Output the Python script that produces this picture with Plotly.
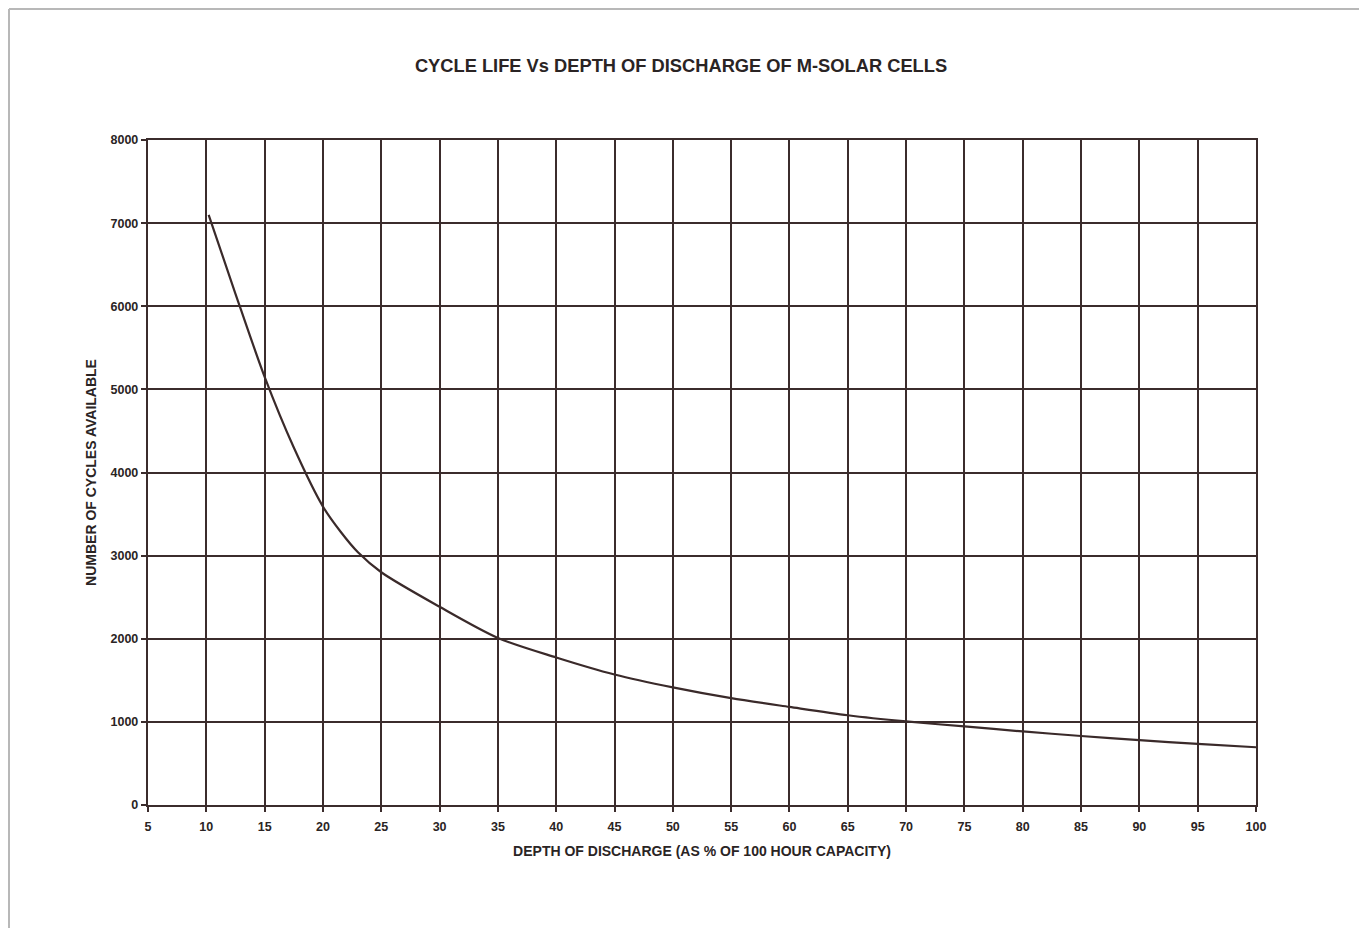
import plotly.graph_objects as go

# Data
depth = [10.2, 12.5, 15, 17.5, 20, 21.5, 23, 25, 30, 35, 40, 45, 50, 55, 60, 65, 70, 75, 80, 85, 90, 95, 100]
cycles = [7100, 6150, 5150, 4300, 3590, 3290, 3040, 2800, 2385, 2010, 1775, 1570, 1415, 1285, 1180, 1080, 1005, 945, 885, 830, 780, 735, 695]

x_ticks = [5, 10, 15, 20, 25, 30, 35, 40, 45, 50, 55, 60, 65, 70, 75, 80, 85, 90, 95, 100]
x_tick_labels = ["5", "10", "15", "20", "25", "30", "35", "40", "45", "50", "55", "60", "65", "70", "75", "80", "85", "90", "95", "100"]
y_ticks = [0, 1000, 2000, 3000, 4000, 5000, 6000, 7000, 8000]

GRID = "#3b2c2c"
TEXT = "#2a2424"
FONT = "Liberation Sans, Arial, sans-serif"

# plot area in window pixels (page has an 8px body offset)
OFF = 8
L, R, T, B = 148, 1256, 140, 805
W, H = 1367, 928
PW, PH = R - L, B - T

fig = go.Figure()
fig.add_trace(go.Scatter(
    x=depth, y=cycles, mode="lines",
    line=dict(color="#3a2a2a", width=2.2, shape="spline", smoothing=0.8),
    showlegend=False, hoverinfo="x+y",
))

fig.update_layout(
    width=W, height=H,
    margin=dict(l=L - OFF, r=W - R + OFF, t=T - OFF, b=H - B + OFF),
    paper_bgcolor="white", plot_bgcolor="white",
    title=dict(text="<b>CYCLE LIFE Vs DEPTH OF DISCHARGE OF M-SOLAR CELLS</b>",
               x=(681 - OFF) / W, xanchor="center", y=1 - (66 - OFF) / H, yanchor="middle",
               xref="container", yref="container",
               font=dict(family=FONT, size=18.3, color=TEXT)),
    xaxis=dict(range=[5, 100], tickvals=x_ticks, ticktext=["<b>%s</b>" % t for t in x_tick_labels],
               showgrid=True, gridcolor=GRID, gridwidth=2.2,
               showline=True, linecolor=GRID, linewidth=2.4, mirror=True,
               ticks="outside", ticklen=5, tickcolor=GRID, tickwidth=2,
               ticklabelstandoff=4,
               zeroline=False,
               tickfont=dict(family=FONT, size=12.5, color=TEXT),
               title=dict(text="<b>DEPTH OF DISCHARGE (AS % OF 100 HOUR CAPACITY)</b>", standoff=13,
                          font=dict(family=FONT, size=14, color=TEXT))),
    yaxis=dict(range=[0, 8000], tickvals=y_ticks, ticktext=["<b>%d</b>" % v for v in y_ticks],
               showgrid=True, gridcolor=GRID, gridwidth=2.2,
               showline=True, linecolor=GRID, linewidth=2.4, mirror=True,
               ticks="outside", ticklen=5, tickcolor=GRID, tickwidth=2,
               ticklabelstandoff=0,
               zeroline=False,
               tickfont=dict(family=FONT, size=12.5, color=TEXT),
               title=dict(text="<b>NUMBER OF CYCLES AVAILABLE</b>", standoff=11,
                          font=dict(family=FONT, size=14, color=TEXT))),
    shapes=[
        dict(type="line", xref="paper", yref="paper",
             x0=(9 - L) / PW, x1=(W + OFF - L) / PW,
             y0=(B - 9) / PH, y1=(B - 9) / PH,
             line=dict(color="#b8b8b8", width=2)),
        dict(type="line", xref="paper", yref="paper",
             x0=(9 - L) / PW, x1=(9 - L) / PW,
             y0=(B - 9) / PH, y1=(B - H - OFF) / PH,
             line=dict(color="#b8b8b8", width=2)),
    ],
)

fig.write_html("out.html")
